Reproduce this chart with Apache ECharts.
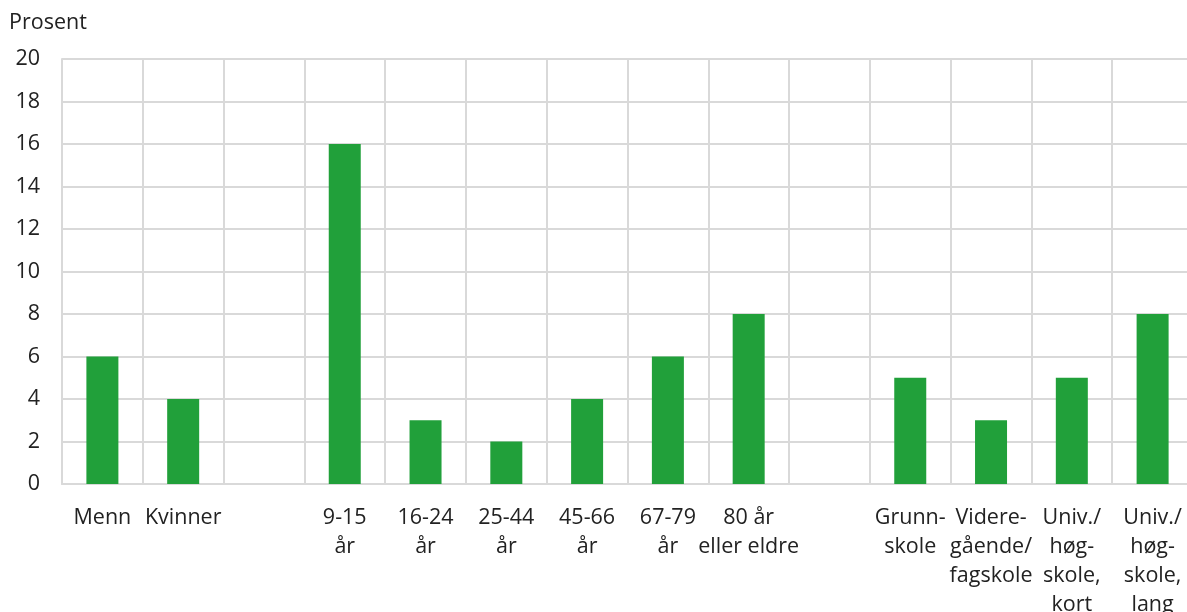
<!DOCTYPE html>
<html>
<head>
<meta charset="utf-8">
<script src="https://cdn.jsdelivr.net/npm/echarts@6/dist/echarts.min.js"></script>
<style>
  html, body { margin: 0; padding: 0; background: #fff; }
  #chart { width: 1187px; height: 612px; }
</style>
</head>
<body>
<div id="chart"></div>
<script>
// Categories: gender, age groups and education, separated by empty slots
const categories = [
  'Menn', 'Kvinner', '',
  '9-15\når', '16-24\når', '25-44\når', '45-66\når', '67-79\når', '80 år\neller eldre', ' ',
  'Grunn-\nskole', 'Videre-\ngående/\nfagskole', 'Univ./\nhøg-\nskole,\nkort', 'Univ./\nhøg-\nskole,\nlang'
];
const values = [6, 4, null, 16, 3, 2, 4, 6, 8, null, 5, 3, 5, 8];
const yTicks = { min: 0, max: 20, step: 2 };
const unitLabel = 'Prosent';

const gridColor = '#d9d9d9';
const textColor = '#222';
const font = '"Open Sans", "Noto Sans", sans-serif';
const fontSize = 21.5;

const chart = echarts.init(document.getElementById('chart'));
chart.setOption({
  animation: false,
  graphic: [{
    type: 'text', left: 9, top: 12,
    style: { text: unitLabel, fontSize: fontSize, fontFamily: font, fill: textColor }
  }],
  // the plot runs a few pixels past the right edge of the canvas
  grid: { left: 62, width: 1131, top: 59, height: 425, containLabel: false, outerBoundsMode: 'none' },
  xAxis: {
    type: 'category',
    data: categories,
    boundaryGap: true,
    axisLine: { show: true, lineStyle: { color: gridColor, width: 2 } },
    axisTick: { show: false },
    splitLine: { show: true, interval: 0, lineStyle: { color: gridColor, width: 2 } },
    axisLabel: {
      interval: 0, margin: 19, fontSize: fontSize, lineHeight: 29,
      fontFamily: font, color: textColor, align: 'center'
    }
  },
  yAxis: {
    type: 'value',
    min: yTicks.min, max: yTicks.max, interval: yTicks.step,
    axisLine: { show: true, lineStyle: { color: gridColor, width: 2 } },
    axisTick: { show: false },
    splitLine: { show: true, lineStyle: { color: gridColor, width: 2 } },
    axisLabel: { margin: 22, fontSize: fontSize, fontFamily: font, color: textColor }
  },
  series: [{
    type: 'bar',
    data: values,
    barWidth: 32,
    itemStyle: { color: '#21a03a' }
  }]
});
</script>
</body>
</html>
